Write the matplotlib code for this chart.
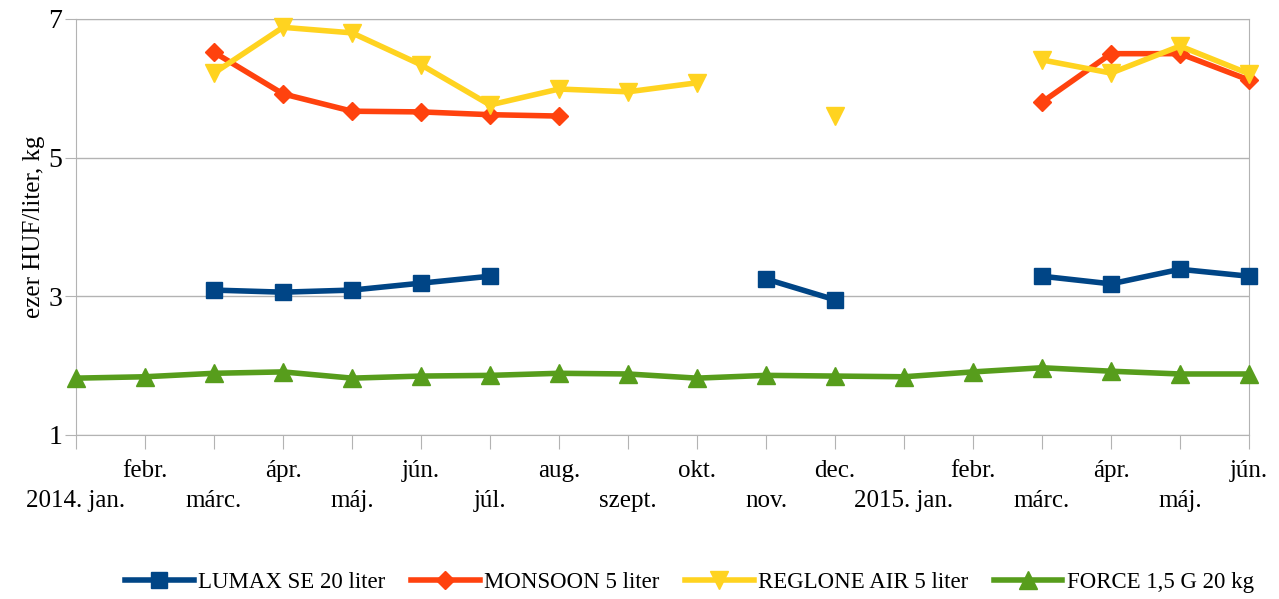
import numpy as np
import matplotlib.pyplot as plt

plt.rcParams["font.family"] = ["Liberation Serif", "DejaVu Serif"]

months = ["2014. jan.", "febr.", "márc.", "ápr.", "máj.", "jún.", "júl.", "aug.",
          "szept.", "okt.", "nov.", "dec.", "2015. jan.", "febr.", "márc.", "ápr.",
          "máj.", "jún."]
nan = np.nan
lumax = [nan, nan, 3.09, 3.06, 3.09, 3.19, 3.29, nan, nan, nan, 3.25, 2.95,
         nan, nan, 3.29, 3.18, 3.39, 3.29]
monsoon = [nan, nan, 6.52, 5.92, 5.67, 5.66, 5.62, 5.60, nan, nan, nan, nan,
           nan, nan, 5.80, 6.50, 6.50, 6.12]
reglone = [nan, nan, 6.22, 6.88, 6.80, 6.34, 5.76, 5.99, 5.95, 6.08, nan, 5.60,
           nan, nan, 6.41, 6.22, 6.61, 6.21]
force = [1.82, 1.84, 1.89, 1.91, 1.82, 1.85, 1.86, 1.89, 1.88, 1.82, 1.86, 1.85,
         1.84, 1.91, 1.97, 1.92, 1.88, 1.88]

series = [
    ("LUMAX SE 20 liter", lumax, "#004586", "s", 11),
    ("MONSOON 5 liter", monsoon, "#ff420e", "D", 9),
    ("REGLONE AIR 5 liter", reglone, "#ffd320", "v", 13),
    ("FORCE 1,5 G 20 kg", force, "#579d1c", "^", 13),
]

fig = plt.figure(figsize=(12.79, 5.99), dpi=100)
ax = fig.add_axes([76 / 1279, 1 - 435 / 599, (1249 - 76) / 1279, (435 - 19) / 599])

x = np.arange(len(months))
for name, vals, color, marker, ms in series:
    ax.plot(x, vals, color=color, lw=4, marker=marker, markersize=ms, label=name,
            clip_on=False, zorder=3)

ax.set_xlim(0, len(months) - 1)
ax.set_ylim(1, 7)
ax.set_yticks([1, 3, 5, 7])
ax.tick_params(axis="y", labelsize=20, length=8, color="#b3b3b3", pad=2)
ax.yaxis.grid(True, color="#b3b3b3", lw=1)
ax.set_axisbelow(True)
for s in ax.spines.values():
    s.set_color("#b3b3b3")

ax.set_xticks(x)
labels = [("\n" + m) if i % 2 == 0 else m for i, m in enumerate(months)]
ax.set_xticklabels(labels, fontsize=18, linespacing=1.45)
ax.tick_params(axis="x", length=10, color="#b3b3b3", pad=8)

ax.set_ylabel("ezer HUF/liter, kg", fontsize=18, labelpad=2)

ax.legend(loc="center", bbox_to_anchor=(0.523, -0.355), ncol=4, frameon=False,
          fontsize=16.5, handlelength=3, columnspacing=1.1, handletextpad=0.2)

fig.savefig("out.png", dpi=100)
